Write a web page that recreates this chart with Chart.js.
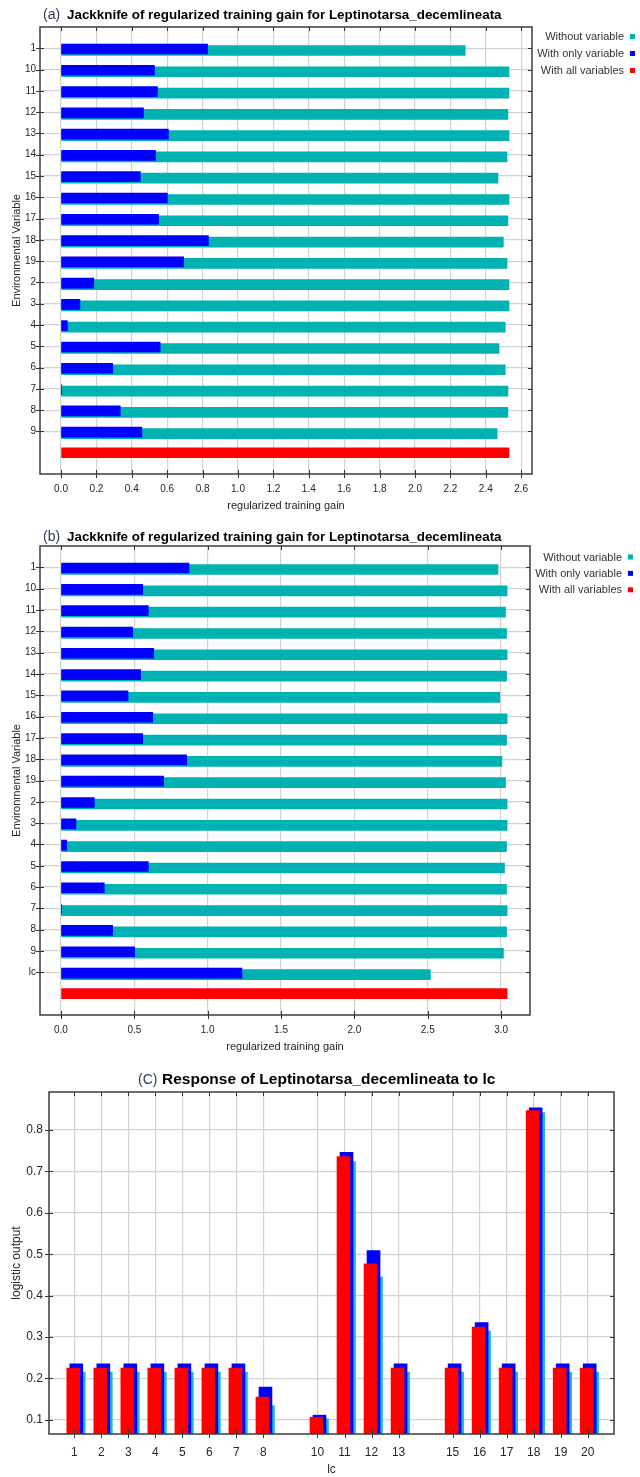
<!DOCTYPE html>
<html>
<head>
<meta charset="utf-8">
<title>Jackknife and response of Leptinotarsa_decemlineata</title>
<script src="https://cdn.jsdelivr.net/npm/chart.js@4.4.1/dist/chart.umd.min.js"></script>
<style>
  html, body { margin: 0; padding: 0; background: #fff; }
  canvas { position: absolute; left: 0; }
  #panelA { top: 0; }
  #panelB { top: 515px; }
  #panelC { top: 1055px; }
</style>
</head>
<body>
<canvas id="panelA" width="640" height="515"></canvas>
<canvas id="panelB" width="640" height="540"></canvas>
<canvas id="panelC" width="640" height="422"></canvas>
<script>
// (a) jackknife, climate variables only
const varsA = ['1', '10', '11', '12', '13', '14', '15', '16', '17', '18', '19', '2', '3', '4', '5', '6', '7', '8', '9'];
const withoutA = [2.284, 2.531, 2.531, 2.525, 2.531, 2.520, 2.469, 2.531, 2.525, 2.499, 2.520, 2.531, 2.531, 2.510, 2.475, 2.510, 2.525, 2.525, 2.464];
const onlyA = [0.828, 0.528, 0.545, 0.466, 0.607, 0.534, 0.448, 0.601, 0.551, 0.833, 0.693, 0.185, 0.107, 0.036, 0.560, 0.292, 0.004, 0.335, 0.457];
const allA = 2.531;
const ticksA = [0, 0.2, 0.4, 0.6, 0.8, 1.0, 1.2, 1.4, 1.6, 1.8, 2.0, 2.2, 2.4, 2.6];

// (b) jackknife, climate variables plus land cover
const varsB = ['1', '10', '11', '12', '13', '14', '15', '16', '17', '18', '19', '2', '3', '4', '5', '6', '7', '8', '9', 'lc'];
const withoutB = [2.979, 3.041, 3.030, 3.037, 3.041, 3.037, 2.991, 3.041, 3.037, 3.005, 3.030, 3.041, 3.041, 3.037, 3.023, 3.037, 3.041, 3.037, 3.016, 2.518];
const onlyB = [0.873, 0.557, 0.595, 0.489, 0.632, 0.543, 0.457, 0.625, 0.557, 0.857, 0.700, 0.227, 0.102, 0.039, 0.595, 0.295, 0.005, 0.352, 0.502, 1.234];
const allB = 3.041;
const ticksB = [0, 0.5, 1.0, 1.5, 2.0, 2.5, 3.0];

// (c) response to land cover class
const lcClasses = [1, 2, 3, 4, 5, 6, 7, 8, 10, 11, 12, 13, 15, 16, 17, 18, 19, 20];
const meanC = [0.225, 0.225, 0.225, 0.225, 0.225, 0.225, 0.225, 0.155, 0.106, 0.736, 0.477, 0.225, 0.225, 0.324, 0.225, 0.847, 0.225, 0.225];
const plusSdC = [0.235, 0.235, 0.235, 0.235, 0.235, 0.235, 0.235, 0.179, 0.111, 0.746, 0.509, 0.235, 0.235, 0.335, 0.235, 0.854, 0.235, 0.235];
const minusSdC = [0.215, 0.215, 0.215, 0.215, 0.215, 0.215, 0.215, 0.134, 0.102, 0.724, 0.445, 0.215, 0.215, 0.314, 0.215, 0.842, 0.215, 0.215];
const ticksC = [0.1, 0.2, 0.3, 0.4, 0.5, 0.6, 0.7, 0.8];

const TEAL = '#00b2b2';
const BLUE = '#0000ff';
const RED = '#ff0000';
const CYAN = '#1cbcc4';
const GRID = '#d2d2d2';
const INK = '#262626';

Chart.defaults.font.family = '"Liberation Sans", Arial, Helvetica, sans-serif';
Chart.defaults.color = INK;

/**
 * Frame, tick marks, title and legend, plus a small pixel shift per dataset
 * so the overlapping bars sit the way the original plots have them.
 */
const decor = {
  id: 'decor',
  beforeDatasetDraw(chart, args) {
    const ds = chart.data.datasets[args.index];
    chart.ctx.save();
    chart.ctx.translate(ds.shiftX || 0, ds.shiftY || 0);
  },
  afterDatasetDraw(chart) {
    chart.ctx.restore();
  },
  afterDraw(chart, args, opts) {
    const ctx = chart.ctx;
    const a = chart.chartArea;
    const xs = chart.scales.x;
    const ys = chart.scales.y;
    ctx.save();

    // tick marks: across the frame on left/bottom, inside on top/right
    ctx.strokeStyle = '#333';
    ctx.lineWidth = 1;
    ctx.beginPath();
    xs.ticks.forEach((t, i) => {
      const px = Math.round(xs.getPixelForTick(i)) + 0.5;
      ctx.moveTo(px, a.top);
      ctx.lineTo(px, a.top + 4);
      ctx.moveTo(px, a.bottom - 4);
      ctx.lineTo(px, a.bottom + 4);
    });
    ys.ticks.forEach((t, i) => {
      if (!t.label) return;
      const py = Math.round(ys.getPixelForTick(i)) + 0.5;
      ctx.moveTo(a.left - 4, py);
      ctx.lineTo(a.left + 4, py);
      ctx.moveTo(a.right - 4, py);
      ctx.lineTo(a.right, py);
    });
    ctx.stroke();

    // frame
    ctx.strokeStyle = '#3c3c3c';
    ctx.lineWidth = 1.5;
    ctx.strokeRect(a.left, a.top, a.right - a.left, a.bottom - a.top);

    // title: regular prefix, bold text
    ctx.textAlign = 'left';
    ctx.textBaseline = 'middle';
    ctx.font = opts.prefixFont;
    ctx.fillStyle = '#2b3b5c';
    ctx.fillText(opts.prefix, opts.titleX, opts.titleY);
    ctx.font = opts.titleFont;
    ctx.fillStyle = '#000';
    ctx.fillText(opts.title, opts.titleX + opts.titleGap, opts.titleY);

    // legend: text first, coloured square after it
    if (opts.legend) {
      const items = chart.data.datasets
        .filter(ds => ds.legendIndex !== undefined)
        .sort((p, q) => p.legendIndex - q.legendIndex);
      ctx.font = '11px "Liberation Sans", Arial, sans-serif';
      ctx.textAlign = 'right';
      items.forEach((ds, i) => {
        const y = opts.legendTop + i * opts.legendStep;
        ctx.fillStyle = '#333';
        ctx.fillText(ds.label, opts.legendRight, y);
        ctx.fillStyle = ds.backgroundColor;
        ctx.fillRect(opts.legendRight + 6, y - 3, 5, 5);
      });
    }
    ctx.restore();
  }
};
Chart.register(decor);

/**
 * Build one jackknife bar chart
 */
function jackknifeChart(id, vars, without, only, all, ticks, cfg) {
  // blank row on top, one row per variable, the all-variables row, blank row below
  const rows = [''].concat(vars, ['', '']);
  const pad = values => [null].concat(values, [null, null]);
  const allRow = rows.map((r, i) => (i === vars.length + 1 ? all : null));

  return new Chart(document.getElementById(id), {
    type: 'bar',
    data: {
      labels: rows,
      datasets: [
        {
          label: 'With only variable',
          data: pad(only),
          backgroundColor: BLUE,
          order: 0,
          legendIndex: 1,
          shiftY: 0.7,
        },
        {
          label: 'Without variable',
          data: pad(without),
          backgroundColor: TEAL,
          order: 1,
          legendIndex: 0,
          shiftY: 2.2,
        },
        {
          label: 'With all variables',
          data: allRow,
          backgroundColor: RED,
          order: 2,
          legendIndex: 2,
        },
      ],
    },
    options: {
      indexAxis: 'y',
      responsive: false,
      animation: false,
      datasets: { bar: { barThickness: 10, grouped: false, borderWidth: 0 } },
      layout: { padding: { left: 0, right: cfg.padRight, top: cfg.padTop, bottom: 0 } },
      plugins: {
        legend: { display: false },
        tooltip: { enabled: false },
        decor: {
          prefix: cfg.prefix,
          prefixFont: '14px "Liberation Sans", Arial, sans-serif',
          title: 'Jackknife of regularized training gain for Leptinotarsa_decemlineata',
          titleFont: 'bold 13.4px "Liberation Sans", Arial, sans-serif',
          titleX: 43,
          titleGap: 24,
          titleY: cfg.titleY,
          legend: true,
          legendRight: cfg.legendRight,
          legendTop: cfg.legendTop,
          legendStep: cfg.legendStep,
        },
      },
      scales: {
        x: {
          type: 'linear',
          min: cfg.min,
          max: cfg.max,
          afterBuildTicks: s => {
            s.ticks = ticks.map(v => ({ value: v }));
          },
          afterFit: s => {
            s.height = cfg.xHeight;
          },
          grid: { color: GRID, lineWidth: 1.2, drawTicks: false },
          border: { display: false },
          ticks: { padding: 9, font: { size: 10 }, color: INK, callback: v => v.toFixed(1) },
          title: {
            display: true,
            text: 'regularized training gain',
            font: { size: 11 },
            color: INK,
            padding: { top: 0, bottom: cfg.xTitlePad },
          },
        },
        y: {
          type: 'category',
          offset: false,
          afterFit: s => {
            s.width = 40;
          },
          grid: {
            offset: false,
            color: c => (c.tick && c.tick.label ? GRID : 'rgba(0,0,0,0)'),
            lineWidth: 1.2,
            drawTicks: false,
          },
          border: { display: false },
          ticks: { autoSkip: false, padding: 4, font: { size: 10 }, color: INK },
          title: {
            display: true,
            text: 'Environmental Variable',
            font: { size: 11 },
            color: INK,
            padding: { top: 10, bottom: 0 },
          },
        },
      },
    },
  });
}

jackknifeChart('panelA', varsA, withoutA, onlyA, allA, ticksA, {
  prefix: '(a)',
  min: -0.1186,
  max: 2.661,
  padTop: 27,
  padRight: 108,
  xHeight: 41,
  xTitlePad: 2.4,
  titleY: 15,
  legendRight: 624,
  legendTop: 37,
  legendStep: 17,
});

jackknifeChart('panelB', varsB, withoutB, onlyB, allB, ticksB, {
  prefix: '(b)',
  min: -0.143,
  max: 3.197,
  padTop: 31,
  padRight: 110,
  xHeight: 40,
  xTitlePad: 1,
  titleY: 22,
  legendRight: 622,
  legendTop: 42.5,
  legendStep: 16.4,
});

// (c) response bars: red = mean, blue/cyan = mean +/- one std dev
const toPoints = values => lcClasses.map((c, i) => ({ x: c, y: values[i] }));

new Chart(document.getElementById('panelC'), {
  type: 'bar',
  data: {
    datasets: [
      { label: 'mean', data: toPoints(meanC), backgroundColor: RED, order: 0, shiftX: -1 },
      { label: 'mean + one stddev', data: toPoints(plusSdC), backgroundColor: BLUE, order: 1, shiftX: 2 },
      { label: 'mean - one stddev', data: toPoints(minusSdC), backgroundColor: CYAN, order: 2, shiftX: 4.5 },
    ],
  },
  options: {
    responsive: false,
    animation: false,
    datasets: { bar: { barThickness: 13, grouped: false, borderWidth: 0 } },
    layout: { padding: { left: 0, right: 26, top: 37, bottom: 0 } },
    plugins: {
      legend: { display: false },
      tooltip: { enabled: false },
      decor: {
        prefix: '(C)',
        prefixFont: '14px "Liberation Sans", Arial, sans-serif',
        title: 'Response of Leptinotarsa_decemlineata to lc',
        titleFont: 'bold 15.5px "Liberation Sans", Arial, sans-serif',
        titleX: 138,
        titleGap: 24,
        titleY: 25,
        legend: false,
      },
    },
    scales: {
      x: {
        type: 'linear',
        min: 0.064,
        max: 20.973,
        offset: false,
        afterBuildTicks: s => {
          s.ticks = lcClasses.map(v => ({ value: v }));
        },
        afterFit: s => {
          s.height = 43;
        },
        grid: { offset: false, color: GRID, lineWidth: 1.2, drawTicks: false },
        border: { display: false },
        ticks: { autoSkip: false, maxRotation: 0, padding: 11, font: { size: 12 }, color: INK },
        title: { display: true, text: 'lc', font: { size: 12 }, color: INK, padding: { top: 0, bottom: 0 } },
      },
      y: {
        type: 'linear',
        min: 0.0655,
        max: 0.892,
        afterBuildTicks: s => {
          s.ticks = ticksC.map(v => ({ value: v }));
        },
        afterFit: s => {
          s.width = 49;
        },
        grid: { color: GRID, lineWidth: 1.2, drawTicks: false },
        border: { display: false },
        ticks: { padding: 6, font: { size: 12 }, color: INK, callback: v => v.toFixed(1) },
        title: {
          display: true,
          text: 'logistic output',
          font: { size: 12 },
          color: INK,
          padding: { top: 9, bottom: 0 },
        },
      },
    },
  },
});
</script>
</body>
</html>
